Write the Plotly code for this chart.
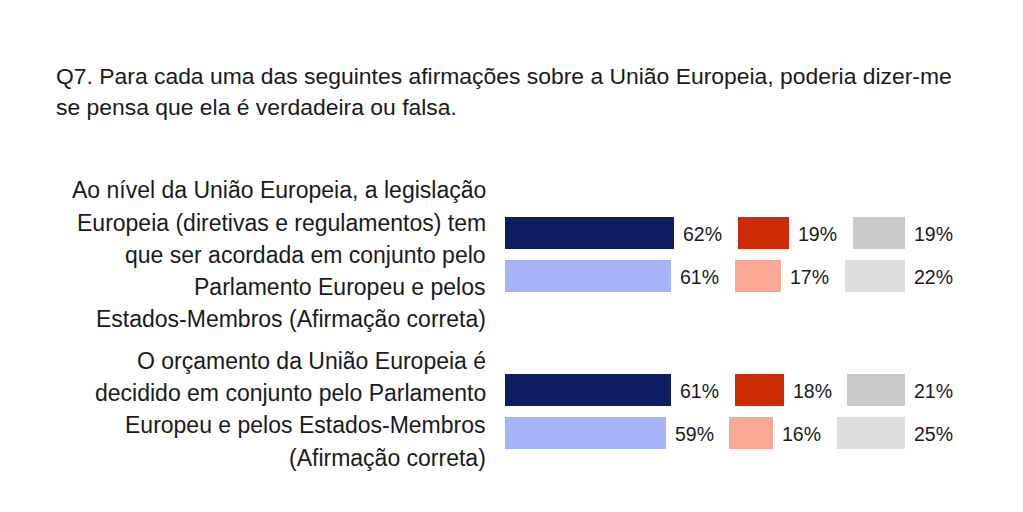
import plotly.graph_objects as go

# %% Data

title_lines = [
    "Q7. Para cada uma das seguintes afirmações sobre a União Europeia, poderia dizer-me",
    "se pensa que ela é verdadeira ou falsa.",
]

statements = [
    ["Ao nível da União Europeia, a legislação",
     "Europeia (diretivas e regulamentos) tem",
     "que ser acordada em conjunto pelo",
     "Parlamento Europeu e pelos",
     "Estados-Membros (Afirmação correta)"],
    ["O orçamento da União Europeia é",
     "decidido em conjunto pelo Parlamento",
     "Europeu e pelos Estados-Membros",
     "(Afirmação correta)"],
]

# current wave / previous wave for each statement
correct_now = [62, 61]
correct_prev = [61, 59]
wrong_now = [19, 18]
wrong_prev = [17, 16]
dk_now = [19, 21]
dk_prev = [22, 25]

# %% Layout helpers

OFFSET = 8            # the html page puts the figure 8px in from the corner
PX_PER_PCT = 2.727
PX_PER_ROW = 43
ROW0 = 233.3          # screen y of the first bar row
GAP = 63.5 / PX_PER_PCT   # room for the label between segments
GROUP_STEP = 2.635        # extra distance between the two statement groups
FONT = "Liberation Sans, Arial, sans-serif"
TXT = "#1a1a1a"
PLOT_TOP, PLOT_BOTTOM = 170, 480

navy, light_blue = "#101c60", "#a6b4f7"
red, salmon = "#cc2b05", "#f9a896"
grey, light_grey = "#c8c9cb", "#dddddd"


def px_y(screen_y):
    return (screen_y - ROW0) / PX_PER_ROW


def paper_y(screen_y):
    return 1 - (screen_y - PLOT_TOP) / (PLOT_BOTTOM - PLOT_TOP)


ypos, correct, wrong, dk, shade = [], [], [], [], []
for g in range(len(statements)):
    ypos += [g * GROUP_STEP + g, g * GROUP_STEP + g + 1]
    correct += [correct_now[g], correct_prev[g]]
    wrong += [wrong_now[g], wrong_prev[g]]
    dk += [dk_now[g], dk_prev[g]]
    shade += [0, 1]

fig = go.Figure()


def add_segment(values, colors):
    fig.add_trace(go.Bar(
        y=ypos, x=values, orientation="h", width=32 / PX_PER_ROW,
        marker=dict(color=[colors[s] for s in shade], line=dict(width=0)),
        hoverinfo="skip", showlegend=False))


def add_spacer():
    fig.add_trace(go.Bar(
        y=ypos, x=[GAP] * len(ypos), orientation="h", width=32 / PX_PER_ROW,
        marker=dict(color="rgba(0,0,0,0)", line=dict(width=0)),
        hoverinfo="skip", showlegend=False))


add_segment(correct, (navy, light_blue))
add_spacer()
add_segment(wrong, (red, salmon))
add_spacer()
add_segment(dk, (grey, light_grey))

# value labels, just right of each bar
for i, y in enumerate(ypos):
    ends = [correct[i],
            correct[i] + GAP + wrong[i],
            correct[i] + 2 * GAP + wrong[i] + dk[i]]
    for x, v in zip(ends, [correct[i], wrong[i], dk[i]]):
        fig.add_annotation(x=x, y=y, text=f"{v}%", showarrow=False,
                           xanchor="left", xshift=7, yshift=-1,
                           font=dict(family=FONT, size=19.5, color=TXT))

# statement texts, one annotation per line to get the spacing right
LINE = 32.3
for g, lines in enumerate(statements):
    centre = g * GROUP_STEP + g + 0.5
    n = len(lines)
    for k, line in enumerate(lines):
        fig.add_annotation(xref="paper", x=0, xshift=-17, xanchor="right",
                           y=centre, yshift=-(k - (n - 1) / 2) * LINE + 2 * g,
                           yanchor="middle", showarrow=False, text=line,
                           font=dict(family=FONT, size=23, color=TXT))

# title lines
for k, line in enumerate(title_lines):
    fig.add_annotation(xref="paper", x=0, xshift=55 - 505 - 1, xanchor="left",
                       yref="paper", y=paper_y(76.5 + 30.5 * k), yanchor="middle",
                       showarrow=False, text=line,
                       font=dict(family=FONT, size=22.9, color=TXT))

fig.update_layout(
    template="none",
    width=1023, height=512,
    margin=dict(l=505 - OFFSET, r=0, t=PLOT_TOP - OFFSET, b=512 - (PLOT_BOTTOM - OFFSET)),
    barmode="stack", bargap=0,
    plot_bgcolor="white", paper_bgcolor="white",
    xaxis=dict(range=[0, (1023 - 505 + OFFSET) / PX_PER_PCT], visible=False),
    yaxis=dict(range=[px_y(PLOT_BOTTOM), px_y(PLOT_TOP)], visible=False),
)

fig.write_html("out.html")
